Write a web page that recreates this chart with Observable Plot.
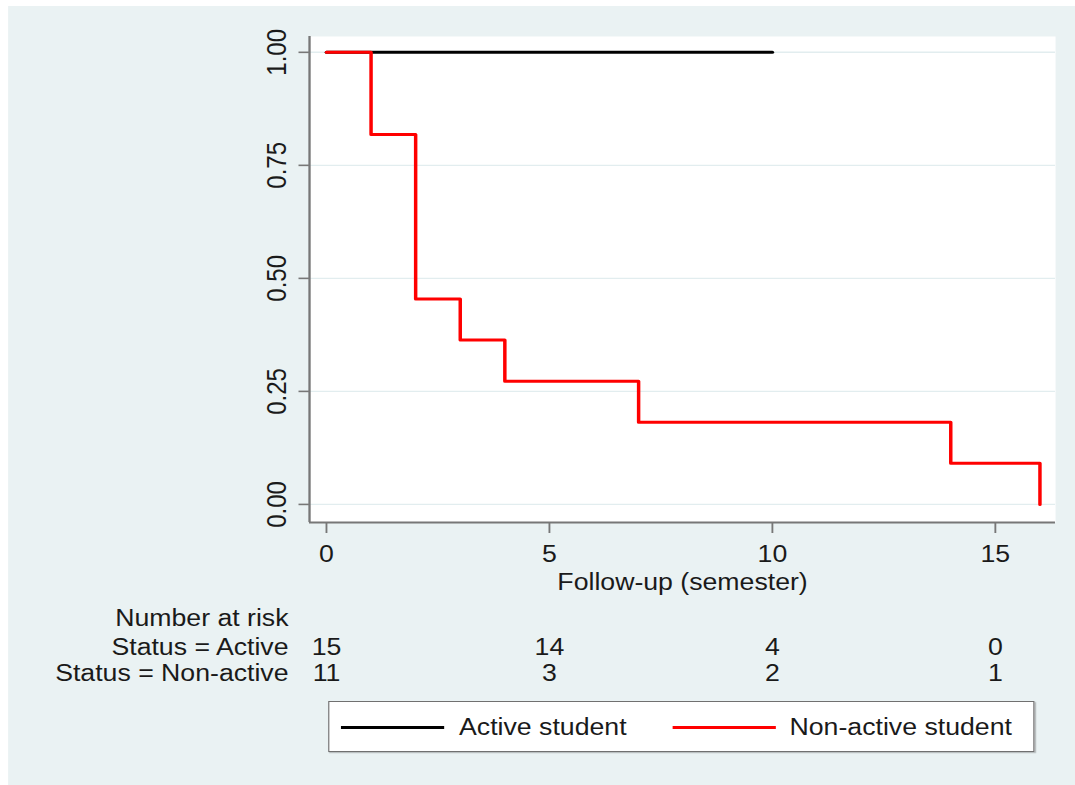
<!DOCTYPE html>
<html>
<head>
<meta charset="utf-8">
<script src="https://cdn.jsdelivr.net/npm/d3@7"></script>
<script src="https://cdn.jsdelivr.net/npm/@observablehq/plot@0.6"></script>
<style>
  body { margin: 0; background: #ffffff; }
  #wrap { position: relative; width: 927px; height: 785px; transform: scaleX(1.1597); transform-origin: 0 0; font-family: "Liberation Sans", Arial, sans-serif; color: #1a1a1a; }
  #bg { position: absolute; left: 6.9px; top: 6px; right: 0; bottom: 0; background: #eaf2f3; }
  #chart { position: absolute; left: 0; top: 0; }
  #legend { position: absolute; left: 282.8px; top: 701px; width: 607px; height: 49px; background: #fff; border: 1.5px solid #707070; box-shadow: 1px 1px 1px rgba(0,0,0,0.25); }
  .sw { position: absolute; top: 24px; height: 3px; }
  .lt { position: absolute; top: 10px; font-size: 23px; line-height: 30px; white-space: nowrap; }
</style>
</head>
<body>
<div id="wrap">
  <div id="bg"></div>
  <div id="chart"></div>
  <div id="legend">
    <div class="sw" style="left:10px;width:89px;background:#000"></div>
    <div class="lt" id="l1" style="left:112px"></div>
    <div class="sw" style="left:296px;width:89px;background:#ff0000"></div>
    <div class="lt" id="l2" style="left:397px"></div>
  </div>
</div>
<script>
// Data
const activeTime = [0, 10];
const activeSurv = [1, 1];
const nonActiveTime = [0, 1, 2, 3, 4, 7, 14, 16];
const nonActiveSurv = [1, 0.8182, 0.4545, 0.3636, 0.2727, 0.1818, 0.0909, 0];
const xTicks = [0, 5, 10, 15];
const yTicks = [0, 0.25, 0.5, 0.75, 1];
const riskTimes = [0, 5, 10, 15];
const riskActive = [15, 14, 4, 0];
const riskNonActive = [11, 3, 2, 1];
const riskTitle = "Number at risk";
const riskLabels = ["Status = Active", "Status = Non-active"];
const seriesNames = ["Active student", "Non-active student"];
const xLabel = "Follow-up (semester)";
const xDomain = [-0.38, 16.35];
const yDomain = [-0.04, 1.035];

const active = activeTime.map((t, i) => ({t, s: activeSurv[i]}));
const nonActive = nonActiveTime.map((t, i) => ({t, s: nonActiveSurv[i]}));

const axisColor = "#777777";
const txt = "#1a1a1a";

const plot = Plot.plot({
  width: 927,
  height: 700,
  marginTop: 36,
  marginBottom: 178,
  marginLeft: 266.4,
  marginRight: 17.3,
  style: {fontFamily: "'Liberation Sans', Arial, sans-serif", fontSize: "23px", background: "transparent", overflow: "visible", color: txt},
  x: {domain: xDomain, axis: null},
  y: {domain: yDomain, axis: null},
  marks: [
    Plot.frame({fill: "white", stroke: null}),
    Plot.ruleY(yTicks, {stroke: "#e2edef", strokeWidth: 1.4}),
    Plot.line(active, {x: "t", y: "s", stroke: "#000000", strokeWidth: 3, curve: "step-after"}),
    Plot.line(nonActive, {x: "t", y: "s", stroke: "#ff0000", strokeWidth: 3, curve: "step-after"}),
    Plot.ruleX([xDomain[0]], {stroke: axisColor, strokeWidth: 2}),
    Plot.ruleY([yDomain[0]], {stroke: axisColor, strokeWidth: 2}),
    Plot.axisY({ticks: yTicks, tickSize: 9, tickFormat: () => "", label: null, stroke: axisColor, strokeWidth: 1.6}),
    Plot.text(yTicks, {y: d => d, text: d => d.toFixed(2), frameAnchor: "left", textAnchor: "middle", dx: -28.4, rotate: -90, fontSize: 24, fill: txt}),
    Plot.axisX({ticks: xTicks, tickSize: 11, tickPadding: 12, label: null, stroke: axisColor, strokeWidth: 1.6, fontSize: 23, fill: txt}),
    Plot.text([xLabel], {text: d => d, frameAnchor: "bottom", dy: 50.7, lineAnchor: "top", fontSize: 23, fill: txt}),
    Plot.text([riskTitle], {text: d => d, frameAnchor: "bottom-left", dx: -18.1, dy: 86.7, textAnchor: "end", lineAnchor: "top", fontSize: 23, fill: txt}),
    Plot.text([riskLabels[0]], {text: d => d, frameAnchor: "bottom-left", dx: -18.1, dy: 115.7, textAnchor: "end", lineAnchor: "top", fontSize: 23, fill: txt}),
    Plot.text([riskLabels[1]], {text: d => d, frameAnchor: "bottom-left", dx: -18.1, dy: 141.7, textAnchor: "end", lineAnchor: "top", fontSize: 23, fill: txt}),
    Plot.text(riskTimes, {x: d => d, text: (d, i) => String(riskActive[i]), frameAnchor: "bottom", dy: 115.7, lineAnchor: "top", fontSize: 23, fill: txt}),
    Plot.text(riskTimes, {x: d => d, text: (d, i) => String(riskNonActive[i]), frameAnchor: "bottom", dy: 141.7, lineAnchor: "top", fontSize: 23, fill: txt})
  ]
});
document.getElementById("chart").appendChild(plot);
document.getElementById("l1").textContent = seriesNames[0];
document.getElementById("l2").textContent = seriesNames[1];
</script>
</body>
</html>
